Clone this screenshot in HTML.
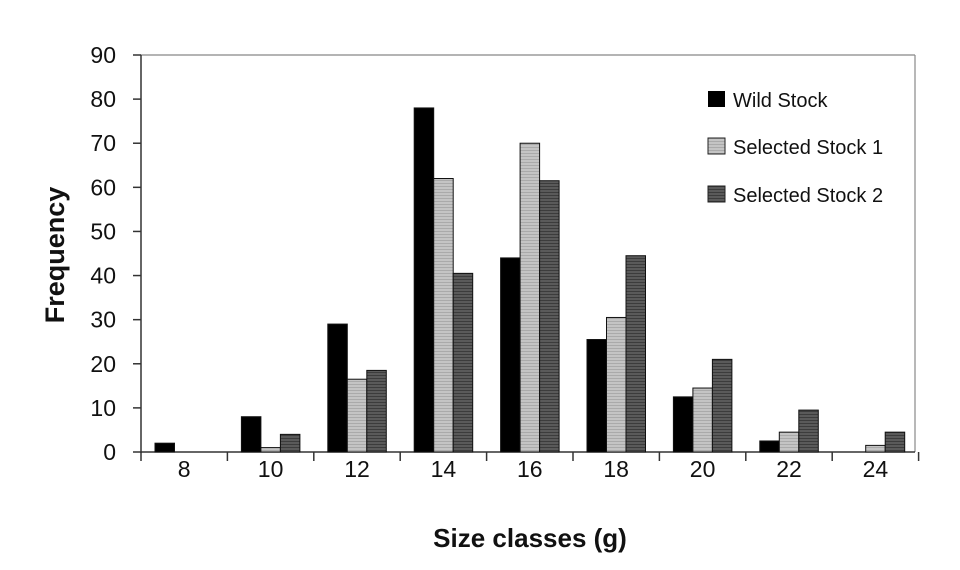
<!DOCTYPE html>
<html><head><style>body{margin:0;background:#fff}svg text{font-family:"Liberation Sans",sans-serif;fill:#111}</style></head><body>
<svg width="960" height="565" viewBox="0 0 960 565" xmlns="http://www.w3.org/2000/svg">
<defs>
<pattern id="p1" width="4" height="3" patternUnits="userSpaceOnUse"><rect width="4" height="3" fill="#c4c4c4"/><rect width="4" height="1" fill="#aaa"/></pattern>
<pattern id="p2" width="4" height="3" patternUnits="userSpaceOnUse"><rect width="4" height="3" fill="#5a5a5a"/><rect width="4" height="1" fill="#3c3c3c"/></pattern>
</defs>
<line x1="140" y1="55" x2="915" y2="55" stroke="#888" stroke-width="1.2"/>
<line x1="915" y1="55" x2="915" y2="452" stroke="#888" stroke-width="1.2"/>
<line x1="141" y1="55" x2="141" y2="453" stroke="#333" stroke-width="1.5"/>
<line x1="141" y1="452" x2="915" y2="452" stroke="#333" stroke-width="1.5"/>
<g id="bars" stroke="#111" stroke-width="1"></g>
<g id="ax"></g>
<rect x="708" y="91" width="17" height="16" fill="#000"/>
<rect x="708" y="138" width="17" height="16" fill="url(#p1)" stroke="#222"/>
<rect x="708" y="186" width="17" height="16" fill="url(#p2)" stroke="#222"/>
<text x="733" y="107" font-size="20">Wild Stock</text>
<text x="733" y="154" font-size="20">Selected Stock 1</text>
<text x="733" y="202" font-size="20">Selected Stock 2</text>
<text x="530" y="547" font-size="26" font-weight="bold" text-anchor="middle">Size classes (g)</text>
<text transform="translate(64,255) rotate(-90)" font-size="27" font-weight="bold" text-anchor="middle">Frequency</text>
</svg>
<script>
var ns="http://www.w3.org/2000/svg";
function el(p,t,a,txt){var e=document.createElementNS(ns,t);for(var k in a)e.setAttribute(k,a[k]);if(txt!=null)e.textContent=txt;document.getElementById(p).appendChild(e);}
var w=[2,8,29,78,44,25.5,12.5,2.5,0],s1=[0,1,16.5,62,70,30.5,14.5,4.5,1.5],s2=[0,4,18.5,40.5,61.5,44.5,21,9.5,4.5];
var y0=452,k=397/90,cw=86.4,x0=141;
for(var i=0;i<9;i++){var cx=x0+i*cw;
[[w[i],"#000"],[s1[i],"url(#p1)"],[s2[i],"url(#p2)"]].forEach(function(b,j){if(b[0]>0){var h=b[0]*k;el("bars","rect",{x:cx+14+j*19.5,y:y0-h,width:19.5,height:h,fill:b[1]});}});
el("ax","line",{x1:cx+cw,y1:452,x2:cx+cw,y2:461,stroke:"#333","stroke-width":1.5});
el("ax","text",{x:cx+cw/2,y:477,"font-size":23,"text-anchor":"middle"},String(8+2*i));}
el("ax","line",{x1:141,y1:452,x2:141,y2:461,stroke:"#333","stroke-width":1.5});
for(var v=0;v<=90;v+=10){var y=y0-v*k;el("ax","line",{x1:133,y1:y,x2:141,y2:y,stroke:"#333","stroke-width":1.5});
el("ax","text",{x:116,y:y+8,"font-size":23,"text-anchor":"end"},String(v));}
</script>
</body></html>
